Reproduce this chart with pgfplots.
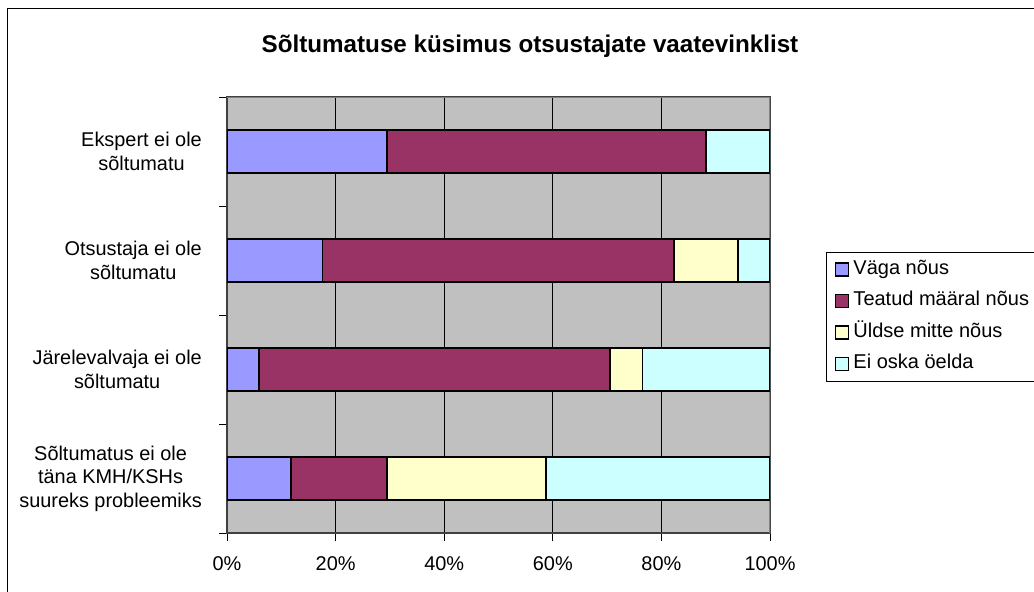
\documentclass[border=0pt]{standalone}
\usepackage{pgfplots}
\pgfplotsset{compat=1.18}
\usepackage{fontspec}
\setmainfont{Liberation Sans}
\definecolor{cBlue}{HTML}{9999FF}
\definecolor{cMaroon}{HTML}{993366}
\definecolor{cYellow}{HTML}{FFFFCC}
\definecolor{cCyan}{HTML}{CCFFFF}
\definecolor{cGray}{HTML}{C0C0C0}
\definecolor{cBorder}{HTML}{808080}
\pgfplotsset{mylegend/.style={legend image code/.code={\draw[##1, draw=black, line width=1.6bp] (0bp,-6.5bp) rectangle (13bp,6.5bp);}}}
\begin{document}
\begin{tikzpicture}
\path[use as bounding box] (0bp,0bp) rectangle (1034bp,-592bp);
\draw[black, line width=1bp] (7.5bp,-592bp) -- (7.5bp,-8.5bp) -- (1034bp,-8.5bp);
\node[font=\fontsize{24.2bp}{28bp}\selectfont\bfseries, anchor=base, inner sep=0pt] at (530bp,-52bp) {Sõltumatuse küsimus otsustajate vaatevinklist};
\begin{axis}[
  at={(227bp,-533bp)}, anchor=south west,
  width=543bp, height=436bp, scale only axis,
  xbar stacked, bar width=0.4,
  xmin=0, xmax=100, ymin=0.5, ymax=4.5,
  axis background/.style={fill=cGray},
  xmajorgrids, grid style={black, line width=0.9bp},
  xtick={0,20,40,60,80,100},
  xticklabels={0\%,20\%,40\%,60\%,80\%,100\%},
  ytick={1,2,3,4},
  yticklabels={{Sõltumatus ei ole\\täna KMH/KSHs\\suureks probleemiks},{Järelevalvaja ei ole\\sõltumatu},{Otsustaja ei ole\\sõltumatu},{Ekspert ei ole\\sõltumatu}},
  minor ytick={0.5,1.5,2.5,3.5,4.5},
  major y tick style={draw=none},
  minor y tick style={draw=black, line width=1bp},
  major x tick style={draw=black, line width=1bp},
  major tick length=8bp, minor tick length=8bp,
  tick align=outside,
  xtick pos=left, ytick pos=left,
  axis line style={draw=black!75, line width=1.2bp},
  yticklabel style={font=\fontsize{19.9bp}{23.4bp}\selectfont, align=center, inner sep=0pt, xshift=-17bp},
  xticklabel style={font=\fontsize{19.9bp}{23.4bp}\selectfont, inner sep=0pt, yshift=-15bp},
  legend style={at={(axis description cs:1.104,0.6445)}, anchor=north west, draw=black, line width=0.8bp, fill=white,
    font=\fontsize{20bp}{23.4bp}\selectfont, inner sep=8bp, row sep=13.5bp, column sep=4bp,
    nodes={inner sep=0pt, text height=14bp, text depth=4bp}},
  legend cell align=left,
]
\addplot[fill=cBlue, draw=black, line width=1.8bp, mylegend] coordinates {(11.8,1) (5.9,2) (17.6,3) (29.4,4)};
\addlegendentry{Väga nõus}
\addplot[fill=cMaroon, draw=black, line width=1.8bp, mylegend] coordinates {(17.6,1) (64.7,2) (64.7,3) (58.8,4)};
\addlegendentry{Teatud määral nõus}
\addplot[fill=cYellow, draw=black, line width=1.8bp, mylegend] coordinates {(29.4,1) (5.9,2) (11.8,3) (0,4)};
\addlegendentry{Üldse mitte nõus}
\addplot[fill=cCyan, draw=black, line width=1.8bp, mylegend] coordinates {(41.2,1) (23.5,2) (5.9,3) (11.8,4)};
\addlegendentry{Ei oska öelda}
\draw[cBorder, line width=1.5bp] (axis description cs:0,1) -- (axis description cs:1,1) -- (axis description cs:1,0);
\end{axis}
\end{tikzpicture}
\end{document}
